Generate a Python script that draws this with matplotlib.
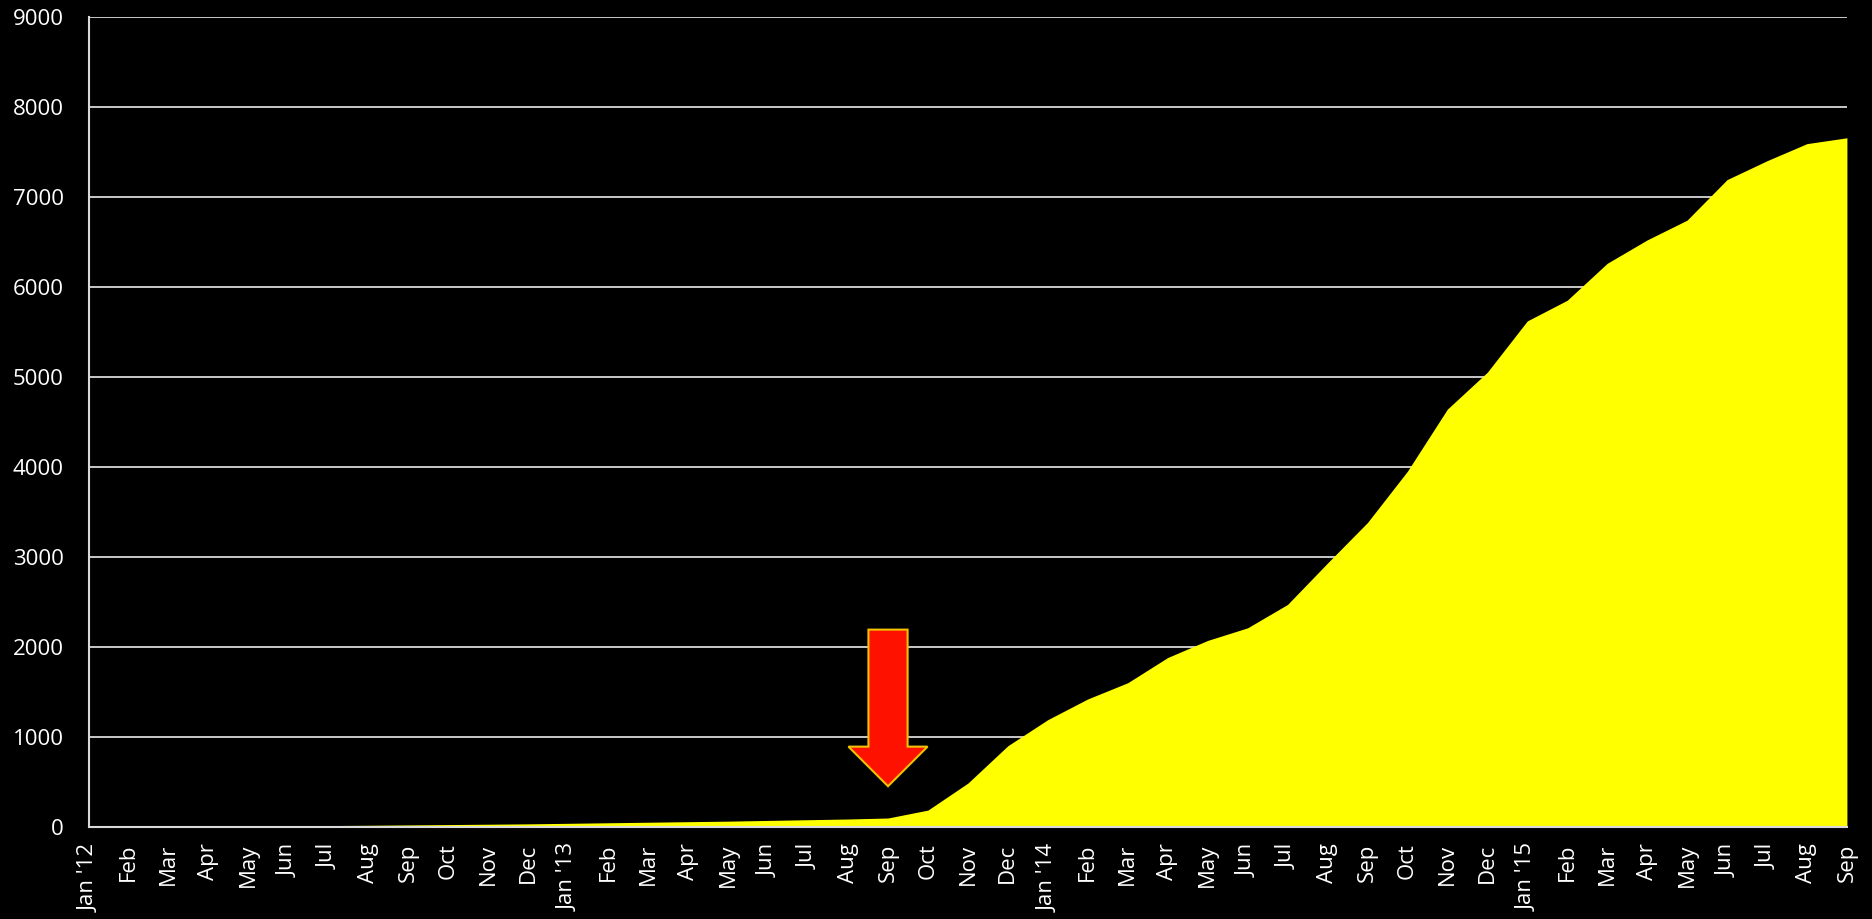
import matplotlib.pyplot as plt
from matplotlib.patches import FancyArrow

plt.rcParams['font.family'] = ['Open Sans', 'DejaVu Sans']

# monthly labels Jan '12 .. Sep '15
months = ["Jan '12", 'Feb', 'Mar', 'Apr', 'May', 'Jun', 'Jul', 'Aug', 'Sep', 'Oct', 'Nov', 'Dec',
          "Jan '13", 'Feb', 'Mar', 'Apr', 'May', 'Jun', 'Jul', 'Aug', 'Sep', 'Oct', 'Nov', 'Dec',
          "Jan '14", 'Feb', 'Mar', 'Apr', 'May', 'Jun', 'Jul', 'Aug', 'Sep', 'Oct', 'Nov', 'Dec',
          "Jan '15", 'Feb', 'Mar', 'Apr', 'May', 'Jun', 'Jul', 'Aug', 'Sep']

# cumulative totals
values = [0, 2, 4, 6, 8, 10, 13, 16, 20, 24, 28, 32,
          38, 44, 50, 56, 62, 70, 78, 86, 97, 185, 485, 900,
          1190, 1420, 1600, 1880, 2070, 2210, 2470, 2930, 3380, 3950, 4640, 5050,
          5620, 5850, 6260, 6520, 6740, 7190, 7400, 7590, 7655]

# arrow marker at Sep '13
arrow_month = 20
arrow_top = 2190
arrow_tip = 450

fig = plt.figure(figsize=(18.72, 9.19), dpi=100, facecolor='black')
ax = fig.add_axes([0.0475, 0.1004, 0.9391, 0.8814])
ax.set_facecolor('black')

x = list(range(len(values)))
ax.fill_between(x, values, 0, color='#FFFF00', linewidth=0, zorder=2)

arrow = FancyArrow(arrow_month, arrow_top, 0, arrow_tip - arrow_top, width=0.98,
                   head_width=1.98, head_length=440, length_includes_head=True,
                   facecolor='#FF1100', edgecolor='#F2C200', linewidth=1.5, zorder=4)
ax.add_patch(arrow)

ax.set_xlim(0, len(values) - 1)
ax.set_ylim(0, 9000)
ax.set_yticks(range(0, 9001, 1000))
ax.set_xticks(x)
ax.set_xticklabels(months, rotation=90)

ax.grid(axis='y', color='#D9D9D9', linewidth=1.3, zorder=1)
ax.set_axisbelow(True)
ax.tick_params(axis='both', length=0, colors='white', labelsize=16)
ax.tick_params(axis='x', pad=12)
ax.tick_params(axis='y', pad=18)

for side in ['top', 'right']:
    ax.spines[side].set_visible(False)
for side in ['left', 'bottom']:
    ax.spines[side].set_color('#D9D9D9')
    ax.spines[side].set_linewidth(1.5)
    ax.spines[side].set_zorder(3)

fig.savefig('out.png', facecolor='black')
